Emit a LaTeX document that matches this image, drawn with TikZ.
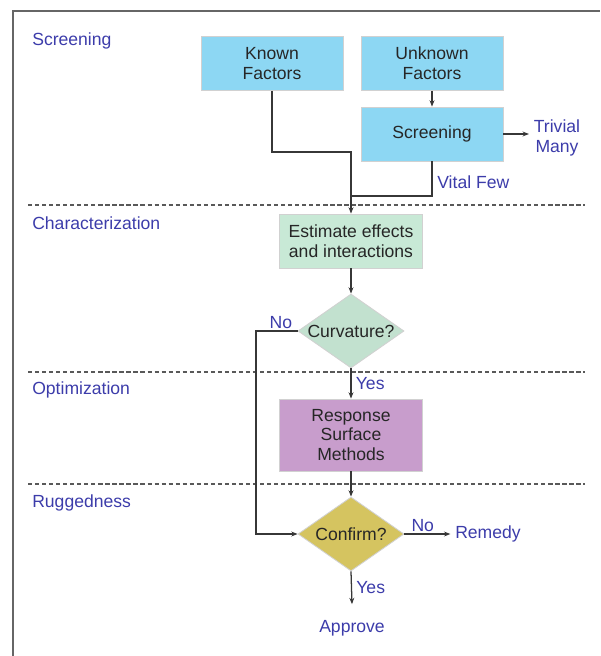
\documentclass[tikz,border=0pt]{standalone}
\usepackage{fontspec}
\setmainfont{Liberation Sans}
\usetikzlibrary{arrows.meta,shapes.geometric}

\definecolor{skyfill}{RGB}{141,215,243}
\definecolor{mintfill}{RGB}{200,233,214}
\definecolor{plumfill}{RGB}{200,157,204}
\definecolor{olivefill}{RGB}{213,196,96}
\definecolor{phaseblue}{RGB}{60,60,170}
\definecolor{linegray}{RGB}{55,55,55}

\begin{document}
\begin{tikzpicture}[x=0.025cm, y=-0.025cm,
    txt/.style={font=\fontsize{12.5}{14}\selectfont},
    box/.style={txt, rectangle, draw=black!18, line width=0.6pt, text=black!85,
      align=center, minimum width=3.55cm, minimum height=1.35cm, inner sep=0pt},
    choice/.style={txt, diamond, aspect=1.43, draw=black!18, line width=0.6pt, text=black!85,
      minimum width=2.65cm, minimum height=1.85cm, inner sep=0pt},
    lab/.style={txt, text=phaseblue},
    arr/.style={draw=linegray, line width=0.9pt, -{Stealth[length=4.5pt,width=3.5pt]}},
    wire/.style={draw=linegray, line width=0.9pt},
    sep/.style={draw=black!65, line width=1pt, dash pattern=on 3pt off 2pt}]
    \useasboundingbox (0,0) rectangle (600,656);
    \draw[black!60, line width=1.5pt] (13,656) -- (13,11) -- (600,11);

    % phase labels and separators
    \node[lab, anchor=west, inner sep=0pt] (ph1) at (32,41) {Screening};
    \node[lab, anchor=west, inner sep=0pt] (ph2) at (32,223) {Characterization};
    \node[lab, anchor=west, inner sep=0pt] (ph3) at (32,390) {Optimization};
    \node[lab, anchor=west, inner sep=0pt] (ph4) at (32,503) {Ruggedness};
    \foreach \y in {205,372,484}
      \draw[sep] (28,\y) -- (585,\y);

    % screening
    \node[box, fill=skyfill] (known) at (272,63.5) {Known\\Factors};
    \node[box, fill=skyfill] (unknown) at (432,63.5) {Unknown\\Factors};
    \node[box, fill=skyfill] (screen) at (432,134) {Screening};
    \node[lab, align=center] (trivial) at (557,138) {Trivial\\Many};
    \draw[arr] (unknown) -- (screen);
    \draw[arr] (screen.east) -- (screen.east -| trivial.west);

    % characterization
    \node[box, fill=mintfill, minimum width=3.575cm] (estimate) at (351,241) {Estimate effects\\and interactions};
    \coordinate (kbend) at (351,152);
    \coordinate (join) at (351,196);
    \draw[arr] (known.south) |- (kbend) -- (estimate.north);
    \draw[wire] (screen.south) |- node[lab, right, pos=0.3] {Vital Few} (join);
    \node[choice, fill=mintfill!92!gray] (curv) at (351,331) {Curvature?};
    \draw[arr] (estimate) -- (curv);

    % optimization
    \node[box, fill=plumfill, minimum width=3.575cm, minimum height=1.8cm] (rsm) at (351,435) {Response\\Surface\\Methods};
    \draw[arr] (curv.south) -- node[lab, right, inner sep=3pt] {Yes} (rsm.north);

    % ruggedness
    \node[choice, fill=olivefill] (confirm) at (351,534) {Confirm?};
    \node[lab] (remedy) at (488,534) {Remedy};
    \node[lab, anchor=base, inner ysep=11pt] (approve) at (352,632) {Approve};
    \coordinate (nocorner) at (256,331);
    \draw[arr] (rsm) -- (confirm);
    \draw[arr] (curv.west) -- node[lab, above, inner sep=1pt, pos=0.4] {No} (nocorner) |- (confirm.west);
    \draw[arr] (confirm.east) -- node[lab, above, inner sep=1pt, pos=0.4] {No} (remedy.west);
    \draw[arr] (confirm.south) -- node[lab, right, inner sep=3pt] {Yes} (approve.north);
\end{tikzpicture}
\end{document}
